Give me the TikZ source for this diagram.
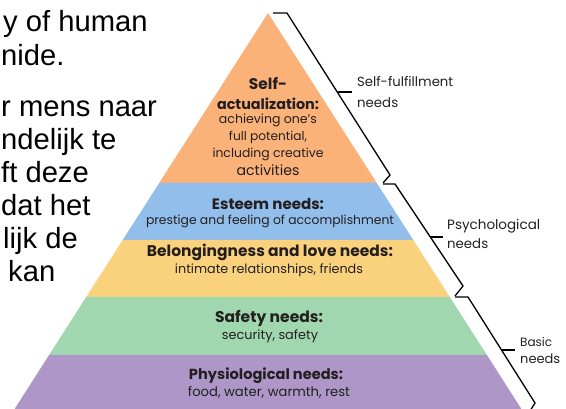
\documentclass[tikz,border=0pt]{standalone}
\usepackage{fontspec}
\usepackage{graphicx}
\setmainfont{Liberation Sans}
\newfontfamily\pyr{Poppins}
\definecolor{cOrange}{HTML}{FAB278}
\definecolor{cBlue}{HTML}{92BEEB}
\definecolor{cYellow}{HTML}{FAD27D}
\definecolor{cGreen}{HTML}{A0D7AF}
\definecolor{cPurple}{HTML}{AF96C8}
\definecolor{cInk}{HTML}{231F20}
\newcommand\fitt[2]{\resizebox{#1pt}{!}{#2}}
\tikzset{
  slide/.style={anchor=base west, inner sep=0pt, font=\fontsize{29.2}{34}\selectfont, text=black},
  ptitle/.style={anchor=base, inner sep=0pt, font=\pyr\bfseries, text=cInk},
  pbody/.style={anchor=base, inner sep=0pt, font=\pyr, text=cInk},
  side/.style={anchor=base west, inner sep=0pt, font=\pyr, text=cInk},
  brace/.style={draw=black, line width=1.3pt, line join=miter}
}
\begin{document}
\begin{tikzpicture}[x=1pt,y=-1pt]
\useasboundingbox (0,0) rectangle (566,409);
\clip (0,0) rectangle (566,409);
% pyramid layers
\fill[cOrange] (268,13) -- (376.8,183) -- (159.2,183) -- cycle;
\fill[cBlue] (159.2,183) -- (376.8,183) -- (413.3,240) -- (122.7,240) -- cycle;
\fill[cYellow] (122.7,240) -- (413.3,240) -- (449.8,297) -- (86.2,297) -- cycle;
\fill[cGreen] (86.2,297) -- (449.8,297) -- (486.9,355) -- (49.1,355) -- cycle;
\fill[cPurple] (49.1,355) -- (486.9,355) -- (521.4,409) -- (14.6,409) -- cycle;
% slide text
\node[slide] (s1) at (3,32) {y of human};
\node[slide] (s2) at (1,66) {nide.};
\node[slide] (s3) at (1,117) {r mens naar};
\node[slide] (s4) at (1,150) {ndelijk te};
\node[slide] (s5) at (1,183) {ft deze};
\node[slide] (s6) at (1,216) {dat het};
\node[slide] (s7) at (3,249) {lijk de};
\node[slide] (s8) at (8,282) {kan};
% pyramid text
\node[ptitle] (t1a) at (268,90) {\fitt{38}{Self-}};
\node[ptitle] (t1b) at (268,110) {\fitt{102}{actualization:}};
\node[pbody] (b1a) at (268,124) {\fitt{98}{achieving one’s}};
\node[pbody] (b1b) at (268,141) {\fitt{78}{full potential,}};
\node[pbody] (b1c) at (268,158) {\fitt{111}{including creative}};
\node[pbody] (b1d) at (268,176) {\fitt{63}{activities}};
\node[ptitle] (t2) at (268,210) {\fitt{112}{Esteem needs:}};
\node[pbody] (b2) at (270,225) {\fitt{248}{prestige and feeling of accomplishment}};
\node[ptitle] (t3) at (270,257) {\fitt{246}{Belongingness and love needs:}};
\node[pbody] (b3) at (269,274) {\fitt{188}{intimate relationships, friends}};
\node[ptitle] (t4) at (269,323) {\fitt{108}{Safety needs:}};
\node[pbody] (b4) at (270,340) {\fitt{96}{security, safety}};
\node[ptitle] (t5) at (266,380) {\fitt{154}{Physiological needs:}};
\node[pbody] (b5) at (269,397) {\fitt{162}{food, water, warmth, rest}};
% braces
\draw[brace] (273,13) -- (287,13) -- (390,175) -- (383,183);
\draw[brace] (337.5,92) -- (352,92);
\draw[brace] (383,184) -- (395,184) -- (463,286) -- (455,296);
\draw[brace] (430.3,237) -- (443,237);
\draw[brace] (455,297) -- (468,297) -- (535,403) -- (530,411);
\draw[brace] (501.5,350) -- (515,350);
% side labels
\node[side] (l1a) at (357,87) {\fitt{96}{Self-fulfillment}};
\node[side] (l1b) at (357,108) {\fitt{41}{needs}};
\node[side] (l2a) at (447,230) {\fitt{93}{Psychological}};
\node[side] (l2b) at (447,249) {\fitt{41}{needs}};
\node[side] (l3a) at (520,347) {\fitt{32}{Basic}};
\node[side] (l3b) at (520,363) {\fitt{40}{needs}};
\end{tikzpicture}
\end{document}
